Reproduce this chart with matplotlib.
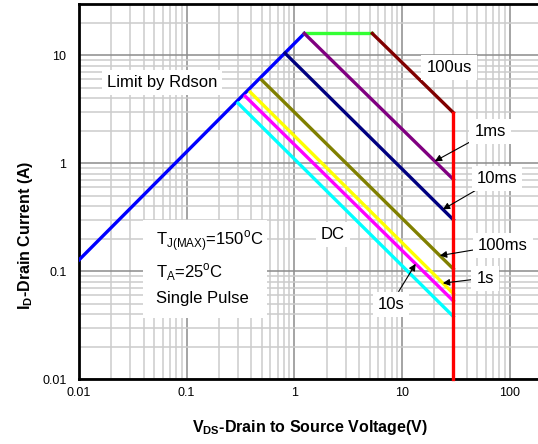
import numpy as np
import matplotlib
matplotlib.use("Agg")
import matplotlib.pyplot as plt
from matplotlib.ticker import LogLocator, FixedLocator, FixedFormatter, NullFormatter
from matplotlib.patches import Rectangle
from matplotlib.transforms import IdentityTransform

plt.rcParams['font.family'] = ['Liberation Sans', 'DejaVu Sans']

# ---- data ----
rdson_v = [0.01, 1.24]
rdson_i = [0.127, 16.0]
limit_v = [1.24, 5.3]
limit_i = [16.0, 16.0]
us100_v = [5.3, 30.0]
us100_i = [16.0, 2.95]
vds_max = 30.0
vmax_i = [2.95, 0.01]

pulse_labels = ['1ms', '10ms', '100ms', '1s', '10s', 'DC']
pulse_colors = ['#800080', '#000080', '#808000', '#FFFF00', '#FF00FF', '#00FFFF']
pulse_start_v = [1.24, 0.82, 0.50, 0.39, 0.35, 0.30]
pulse_start_i = [16.0, 10.5, 5.9, 4.57, 4.19, 3.61]
pulse_end_i = [0.71, 0.30, 0.105, 0.062, 0.053, 0.038]

x_ticks = [0.01, 0.1, 1, 10, 100]
x_ticklabels = ['0.01', '0.1', '1', '10', '100']
y_ticks = [0.01, 0.1, 1, 10]
y_ticklabels = ['0.01', '0.1', '1', '10']

W, H = 538, 444
fig = plt.figure(figsize=(W / 100, H / 100), dpi=100)
ax = fig.add_axes([79 / W, (H - 379) / H, (542 - 79) / W, (379 - 4) / H])
ax.set_xscale('log')
ax.set_yscale('log')
ax.set_xlim(0.01, 200)
ax.set_ylim(0.01, 30)

ax.xaxis.set_major_locator(FixedLocator(x_ticks))
ax.xaxis.set_major_formatter(FixedFormatter(x_ticklabels))
ax.yaxis.set_major_locator(FixedLocator(y_ticks))
ax.yaxis.set_major_formatter(FixedFormatter(y_ticklabels))
ax.xaxis.set_minor_locator(LogLocator(base=10, subs=np.arange(2, 10), numticks=50))
ax.yaxis.set_minor_locator(LogLocator(base=10, subs=np.arange(2, 10), numticks=50))
ax.xaxis.set_minor_formatter(NullFormatter())
ax.yaxis.set_minor_formatter(NullFormatter())
ax.grid(which='major', color='#8c8c8c', lw=1.1, zorder=0)
ax.grid(which='minor', color='#cccccc', lw=1.1, zorder=0)
ax.set_axisbelow(True)
ax.tick_params(which='both', length=0)
ax.tick_params(axis='x', pad=6, labelsize=9)
ax.tick_params(axis='y', pad=9, labelsize=9)
for s in ['left', 'bottom', 'top']:
    ax.spines[s].set_linewidth(2)
ax.spines['right'].set_visible(False)

lw = 2.4
ax.plot(rdson_v, rdson_i, color='#0000FF', lw=lw, zorder=3)
ax.plot(limit_v, limit_i, color='#33FF33', lw=lw, zorder=3)
ax.plot(us100_v, us100_i, color='#800000', lw=lw, zorder=3)
for v0, i0, i1, c in zip(pulse_start_v, pulse_start_i, pulse_end_i, pulse_colors):
    ax.plot([v0, vds_max], [i0, i1], color=c, lw=lw, zorder=3)
ax.plot([vds_max, vds_max], vmax_i, color='#FF0000', lw=lw, zorder=4, clip_on=False)

box = dict(boxstyle='square,pad=0.3', fc='white', ec='none')
fs = 12
ident = IdentityTransform()

ax.text(162, H - 82, 'Limit by Rdson', transform=ident, fontsize=fs, ha='center', va='center', bbox=box, zorder=5)
ax.text(449, H - 67, '100us', transform=ident, fontsize=fs, ha='center', va='center', bbox=box, zorder=5)
ax.text(333, H - 234, 'DC', transform=ident, fontsize=fs, ha='center', va='center', bbox=box, zorder=5)

# condition box
ax.add_patch(Rectangle((143, H - 318), 124, 98, transform=ident, fc='white', ec='none', zorder=5))
ax.text(156, H - 241, r'T$_\mathregular{J(MAX)}$=150$^\mathregular{o}$C', transform=ident, fontsize=fs,
        ha='left', va='center', zorder=6)
ax.text(156, H - 272, r'T$_\mathregular{A}$=25$^\mathregular{o}$C', transform=ident, fontsize=fs,
        ha='left', va='center', zorder=6)
ax.text(156, H - 298, 'Single Pulse', transform=ident, fontsize=fs, ha='left', va='center', zorder=6)

# arrow annotations: label -> (x where arrow tip hits the line, text pixel pos)
arrow_tip_v = {'1ms': 20.2, '10ms': 24.0, '100ms': 22.5, '1s': 24.0, '10s': 13.4}
text_px = {'1ms': (490, 131), '10ms': (497, 178), '100ms': (503, 245), '1s': (485, 278), '10s': (391, 304)}
for lab, v0, i0, i1 in zip(pulse_labels, pulse_start_v, pulse_start_i, pulse_end_i):
    if lab not in arrow_tip_v:
        continue
    vt = arrow_tip_v[lab]
    t = (np.log10(vt) - np.log10(v0)) / (np.log10(vds_max) - np.log10(v0))
    it = 10 ** (np.log10(i0) + t * (np.log10(i1) - np.log10(i0)))
    tx, ty = text_px[lab]
    ax.annotate(lab, xy=(vt, it), xycoords='data', xytext=(tx, H - ty), textcoords='figure pixels',
                fontsize=fs, ha='center', va='center', bbox=box, zorder=6,
                arrowprops=dict(arrowstyle='-|>', color='black', lw=0.8, mutation_scale=10,
                                shrinkA=0, shrinkB=0))

fig.text(310 / W, 1 - 427 / H, r'V$_\mathregular{DS}$-Drain to Source Voltage(V)', fontsize=11.5,
         fontweight='bold', ha='center', va='center')
fig.text(26 / W, 1 - 235 / H, r'I$_\mathregular{D}$-Drain Current (A)', fontsize=11.5,
         fontweight='bold', ha='center', va='center', rotation=90)

fig.savefig('out.png', dpi=100)
